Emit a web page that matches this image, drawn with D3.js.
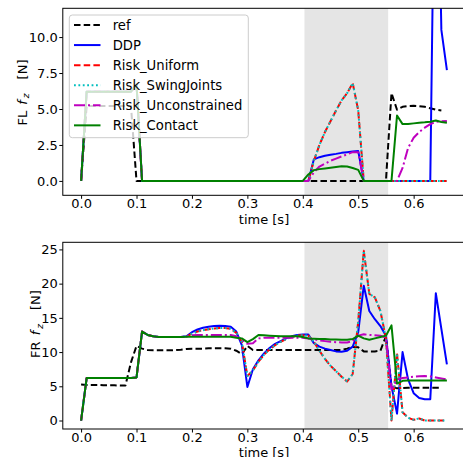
<!DOCTYPE html>
<html>
<head>
<meta charset="utf-8">
<script src="https://cdn.jsdelivr.net/npm/d3@7/dist/d3.min.js"></script>
<style>
  body { margin: 0; background: #fff; }
  text { font-family: "DejaVu Sans", sans-serif; }
</style>
</head>
<body>
<div id="chart"></div>
<script>
// data
var time = [
  0.00, 0.01, 0.02, 0.03, 0.04, 0.05, 0.06, 0.07, 0.08, 0.09,
  0.10, 0.11, 0.12, 0.13, 0.14, 0.15, 0.16, 0.17, 0.18, 0.19,
  0.20, 0.21, 0.22, 0.23, 0.24, 0.25, 0.26, 0.27, 0.28, 0.29,
  0.30, 0.31, 0.32, 0.33, 0.34, 0.35, 0.36, 0.37, 0.38, 0.39,
  0.40, 0.41, 0.42, 0.43, 0.44, 0.45, 0.46, 0.47, 0.48, 0.49,
  0.50, 0.51, 0.52, 0.53, 0.54, 0.55, 0.56, 0.57, 0.58, 0.59,
  0.60, 0.61, 0.62, 0.63, 0.64, 0.65, 0.66
];
var seriesNames = ["ref", "DDP", "Risk_Uniform", "Risk_SwingJoints", "Risk_Unconstrained", "Risk_Contact"];
var band = [0.403, 0.554];

// FL f_z
var flRef = [
  0, 5.2, 5.2, 5.2, 5.2, 5.2, 5.2, 5.2, 5.2, 5.2,
  0, 0, 0, 0, 0, 0, 0, 0, 0, 0,
  0, 0, 0, 0, 0, 0, 0, 0, 0, 0,
  0, 0, 0, 0, 0, 0, 0, 0, 0, 0,
  0, 0, 0, 0, 0, 0, 0, 0, 0, 0,
  0, 0, 0, 0, 0, 0, 6.1, 4.95, 5.15, 5.2,
  5.22, 5.2, 5.15, 5.05, 4.95, 4.9
];
var flDdp = [
  0, 6.2, 6.2, 6.2, 6.2, 6.2, 6.2, 6.2, 6.2, 6.2,
  6.7, 0, 0, 0, 0, 0, 0, 0, 0, 0,
  0, 0, 0, 0, 0, 0, 0, 0, 0, 0,
  0, 0, 0, 0, 0, 0, 0, 0, 0, 0,
  0, 0, 1.5, 1.65, 1.75, 1.82, 1.88, 1.95, 2.0, 2.05,
  2.08, 0, 0, 0, 0, 0, 0, 0, 0, 0,
  0, 0, 0, 0, 30, 10.5, 7.7
];
var flUniform = [
  0, 6.2, 6.2, 6.2, 6.2, 6.2, 6.2, 6.2, 6.2, 6.2,
  6.7, 0, 0, 0, 0, 0, 0, 0, 0, 0,
  0, 0, 0, 0, 0, 0, 0, 0, 0, 0,
  0, 0, 0, 0, 0, 0, 0, 0, 0, 0,
  0, 0, 1.4, 2.5, 3.4, 4.15, 4.9, 5.6, 6.1, 6.8,
  4.9, 0, 0, 0, 0, 0, 0, 0, 0, 0,
  0, 0, 0, 0, 0, 0, 0
];
var flSwing = [
  0, 6.2, 6.2, 6.2, 6.2, 6.2, 6.2, 6.2, 6.2, 6.2,
  6.7, 0, 0, 0, 0, 0, 0, 0, 0, 0,
  0, 0, 0, 0, 0, 0, 0, 0, 0, 0,
  0, 0, 0, 0, 0, 0, 0, 0, 0, 0,
  0, 0, 1.4, 2.5, 3.4, 4.15, 4.9, 5.6, 6.1, 6.8,
  4.9, 0, 0, 0, 0, 0, 0, 0, 0, 0,
  0, 0, 0, 0, 0, 0, 0
];
var flUncon = [
  0, 6.2, 6.2, 6.2, 6.2, 6.2, 6.2, 6.2, 6.2, 6.2,
  6.7, 0, 0, 0, 0, 0, 0, 0, 0, 0,
  0, 0, 0, 0, 0, 0, 0, 0, 0, 0,
  0, 0, 0, 0, 0, 0, 0, 0, 0, 0,
  0, 0, 0.6, 1.0, 1.2, 1.4, 1.55, 1.7, 1.85, 2.0,
  2.0, 0, 0, 0, 0, 0, 0, 0, 0.9, 2.3,
  3.0, 3.4, 3.7, 3.95, 4.1, 4.15, 4.17
];
var flContact = [
  0, 6.2, 6.2, 6.2, 6.2, 6.2, 6.2, 6.2, 6.2, 6.2,
  6.7, 0, 0, 0, 0, 0, 0, 0, 0, 0,
  0, 0, 0, 0, 0, 0, 0, 0, 0, 0,
  0, 0, 0, 0, 0, 0, 0, 0, 0, 0,
  0, 0.45, 0.75, 0.82, 0.87, 0.92, 0.97, 1.02, 1.0, 0.9,
  0.77, 0, 0, 0, 0, 0, 0, 4.55, 3.95, 3.95,
  4.0, 4.05, 4.08, 4.12, 4.2, 4.1, 4.05
];

// FR f_z
var frRef = [
  5.25, 5.2, 5.2, 5.2, 5.15, 5.15, 5.15, 5.1, 5.1, 8.5,
  10.9, 10.5, 10.3, 10.25, 10.25, 10.25, 10.25, 10.3, 10.35, 10.45,
  10.5, 10.5, 10.5, 10.55, 10.55, 10.55, 10.55, 10.5, 10.2, 9.7,
  10.9, 10.3, 10.3, 10.3, 10.3, 10.3, 10.3, 10.3, 10.3, 10.3,
  10.3, 10.3, 10.3, 10.3, 10.3, 10.3, 10.3, 10.3, 10.5, 10.75,
  10.7, 10.1, 10.1, 10.1, 10.2, 12.3, 5.0, 4.7, 4.75, 4.8,
  4.8, 4.8, 4.8, 4.8, 4.8, 4.8
];
var frDdp = [
  0, 6.2, 6.2, 6.2, 6.2, 6.2, 6.2, 6.2, 6.2, 6.2,
  6.3, 13.0, 12.5, 12.3, 12.2, 12.2, 12.2, 12.2, 12.2, 12.3,
  12.9, 13.3, 13.55, 13.7, 13.8, 13.85, 13.8, 13.7, 13.0, 11.0,
  4.9, 7.5, 8.8, 9.8, 10.6, 11.2, 11.6, 12.0, 12.3, 12.5,
  12.55, 12.55, 11.3, 10.8, 10.5, 10.3, 10.1, 10.05, 10.2, 10.8,
  12.9, 19.7, 16.0, 14.8, 13.8, 12.4, 5.0, 1.0, 10.0, 6.0,
  4.0, 3.3, 3.1, 3.1, 18.6, 13.4, 8.2
];
var frUniform = [
  0, 6.2, 6.2, 6.2, 6.2, 6.2, 6.2, 6.2, 6.2, 6.2,
  6.3, 13.0, 12.5, 12.3, 12.2, 12.2, 12.2, 12.2, 12.2, 12.25,
  12.7, 13.0, 13.2, 13.35, 13.45, 13.5, 13.5, 13.4, 12.8, 11.5,
  6.5, 7.3, 8.6, 9.6, 10.4, 11.0, 11.5, 11.9, 12.2, 12.4,
  12.45, 12.4, 11.5, 10.2, 9.0, 8.0, 7.2, 6.4, 5.7, 6.8,
  14.5, 24.8, 18.5, 18.0, 16.0, 12.0, 0, 9.8, 1.2, 0.4,
  0.1, 0.3, 0, 0, 0, 0, 0
];
var frSwing = [
  0, 6.2, 6.2, 6.2, 6.2, 6.2, 6.2, 6.2, 6.2, 6.2,
  6.3, 13.0, 12.5, 12.3, 12.2, 12.2, 12.2, 12.2, 12.2, 12.25,
  12.7, 13.0, 13.2, 13.35, 13.45, 13.5, 13.5, 13.4, 12.8, 11.5,
  6.5, 7.3, 8.6, 9.6, 10.4, 11.0, 11.5, 11.9, 12.2, 12.4,
  12.45, 12.4, 11.5, 10.2, 9.0, 8.0, 7.2, 6.4, 5.7, 6.8,
  14.5, 24.8, 18.5, 18.0, 16.0, 12.0, 0, 9.8, 1.2, 0.4,
  0.1, 0.3, 0, 0, 0, 0, 0
];
var frUncon = [
  0, 6.2, 6.2, 6.2, 6.2, 6.2, 6.2, 6.2, 6.2, 6.2,
  6.3, 13.0, 12.5, 12.3, 12.2, 12.2, 12.2, 12.2, 12.2, 12.3,
  12.45, 12.5, 12.5, 12.5, 12.5, 12.5, 12.5, 12.5, 12.3, 11.8,
  11.2, 11.3, 12.0, 12.1, 12.1, 12.1, 12.1, 12.1, 12.1, 12.1,
  12.1, 12.0, 11.9, 11.7, 11.6, 11.5, 11.45, 11.4, 11.4, 11.6,
  12.4, 12.6, 12.5, 12.45, 12.4, 12.1, 4.5, 6.0, 6.2, 6.3,
  6.4, 6.45, 6.5, 6.45, 6.3, 6.15, 6.0
];
var frContact = [
  0, 6.2, 6.2, 6.2, 6.2, 6.2, 6.2, 6.2, 6.2, 6.2,
  6.3, 13.0, 12.5, 12.3, 12.2, 12.2, 12.2, 12.2, 12.2, 12.25,
  12.25, 12.25, 12.25, 12.25, 12.25, 12.25, 12.25, 12.25, 12.1, 12.0,
  11.45, 11.9, 12.5, 12.45, 12.4, 12.35, 12.3, 12.3, 12.3, 12.3,
  12.2, 12.0, 11.95, 11.9, 11.9, 11.85, 11.85, 11.8, 11.8, 11.9,
  12.4, 12.0, 11.8, 12.0, 12.2, 12.4, 13.9, 5.4, 5.8, 5.85,
  5.85, 5.85, 5.85, 5.85, 5.85, 5.85, 5.85
];

// ticks
var xTicks = [0.0, 0.1, 0.2, 0.3, 0.4, 0.5, 0.6];
var flTicks = [0, 2.5, 5, 7.5, 10];
var frTicks = [0, 5, 10, 15, 20, 25];

// line styles, same order as seriesNames
var styles = [
  { color: "#000000", dash: "6.5,3.2" },
  { color: "#0000ff", dash: null },
  { color: "#ff0000", dash: "6.5,3.2" },
  { color: "#00bfbf", dash: "1.8,2.6" },
  { color: "#bf00bf", dash: "11,3,2,3" },
  { color: "#008000", dash: null }
];

var W = 463, H = 457;
var FONT = 13;

var svg = d3.select("#chart").append("svg")
  .attr("width", W)
  .attr("height", H);

var x = d3.scaleLinear().domain([-0.033, 0.693]).range([62.8, 465.2]);

function DrawPanel(id, cfg) {
  var y = d3.scaleLinear().domain(cfg.yDomain).range([cfg.bottom, cfg.top]);
  var g = svg.append("g");

  // clip
  svg.append("clipPath").attr("id", "clip" + id)
    .append("rect")
    .attr("x", x.range()[0])
    .attr("y", cfg.top)
    .attr("width", x.range()[1] - x.range()[0])
    .attr("height", cfg.bottom - cfg.top);

  // stance band
  g.append("rect")
    .attr("x", x(band[0]))
    .attr("y", cfg.top)
    .attr("width", x(band[1]) - x(band[0]))
    .attr("height", cfg.bottom - cfg.top)
    .attr("fill", "#e5e5e5");

  // lines
  var gLine = g.append("g").attr("clip-path", "url(#clip" + id + ")");
  var line = d3.line()
    .x(function(d) { return x(d[0]); })
    .y(function(d) { return y(d[1]); });
  for (var i = 0; i < cfg.series.length; i++) {
    var values = cfg.series[i];
    var pts = values.map(function(v, k) { return [time[k], v]; });
    gLine.append("path")
      .attr("d", line(pts))
      .attr("fill", "none")
      .attr("stroke", styles[i].color)
      .attr("stroke-width", 2)
      .attr("stroke-linejoin", "round")
      .attr("stroke-dasharray", styles[i].dash);
  }

  // axes
  var xAxis = d3.axisBottom(x).tickValues(xTicks).tickFormat(d3.format(".1f"))
    .tickSizeOuter(0).tickSize(3.5).tickPadding(0.3);
  var gx = g.append("g").attr("transform", "translate(0," + cfg.bottom + ")").call(xAxis);
  var yAxis = d3.axisLeft(y).tickValues(cfg.ticks).tickFormat(d3.format(cfg.fmt))
    .tickSizeOuter(0).tickSize(3.5).tickPadding(1.5);
  var gy = g.append("g").attr("transform", "translate(" + x.range()[0] + ",0)").call(yAxis);
  [gx, gy].forEach(function(a) {
    a.select(".domain").remove();
    a.selectAll("line").attr("stroke", "#000").attr("stroke-width", 1);
    a.selectAll("text").attr("font-size", FONT).attr("fill", "#000")
      .attr("font-family", "DejaVu Sans");
  });

  // frame
  g.append("rect")
    .attr("x", x.range()[0])
    .attr("y", cfg.top)
    .attr("width", x.range()[1] - x.range()[0])
    .attr("height", cfg.bottom - cfg.top)
    .attr("fill", "none")
    .attr("stroke", "#000")
    .attr("stroke-width", 1);

  // labels
  g.append("text")
    .attr("x", (x.range()[0] + x.range()[1]) / 2)
    .attr("y", cfg.xLabelY)
    .attr("text-anchor", "middle")
    .attr("font-size", FONT)
    .text("time [s]");

  // y label: "FL f_z  [N]"
  var yl = g.append("text")
    .attr("transform", "translate(" + cfg.yLabelX + "," + cfg.yLabelY + ") rotate(-90)")
    .attr("text-anchor", "middle")
    .attr("font-size", FONT);
  yl.append("tspan").text(cfg.leg);
  yl.append("tspan").attr("dx", 6).attr("font-style", "italic").text("f");
  yl.append("tspan").attr("dx", 2).attr("dy", 2.5)
    .attr("font-size", FONT * 0.7).attr("font-style", "italic").text("z");
  yl.append("tspan").attr("dx", 14).attr("dy", -2.5).text("[N]");

  return g;
}

DrawPanel(1, {
  top: 8.3, bottom: 195.3, yDomain: [-1, 12],
  series: [flRef, flDdp, flUniform, flSwing, flUncon, flContact],
  ticks: flTicks, fmt: ".1f", leg: "FL",
  xLabelY: 223.5, yLabelX: 26.5, yLabelY: 92.5
});

DrawPanel(2, {
  top: 242.3, bottom: 429, yDomain: [-1.24, 26.04],
  series: [frRef, frDdp, frUniform, frSwing, frUncon, frContact],
  ticks: frTicks, fmt: "d", leg: "FR",
  xLabelY: 457, yLabelX: 40, yLabelY: 324
});

// legend
var gLegend = svg.append("g");
gLegend.append("rect")
  .attr("x", 69.3)
  .attr("y", 15)
  .attr("width", 179)
  .attr("height", 122.7)
  .attr("rx", 3)
  .attr("ry", 3)
  .attr("fill", "#fff")
  .attr("fill-opacity", 0.8)
  .attr("stroke", "#cccccc")
  .attr("stroke-width", 1);
for (var i = 0; i < seriesNames.length; i++) {
  var ly = 25 + i * 20.07;
  gLegend.append("line")
    .attr("x1", 74)
    .attr("x2", 100.5)
    .attr("y1", ly)
    .attr("y2", ly)
    .attr("stroke", styles[i].color)
    .attr("stroke-width", 2)
    .attr("stroke-dasharray", styles[i].dash);
  gLegend.append("text")
    .attr("x", 112.7)
    .attr("y", ly + 4.8)
    .attr("font-size", 13.2)
    .text(seriesNames[i]);
}
</script>
</body>
</html>
